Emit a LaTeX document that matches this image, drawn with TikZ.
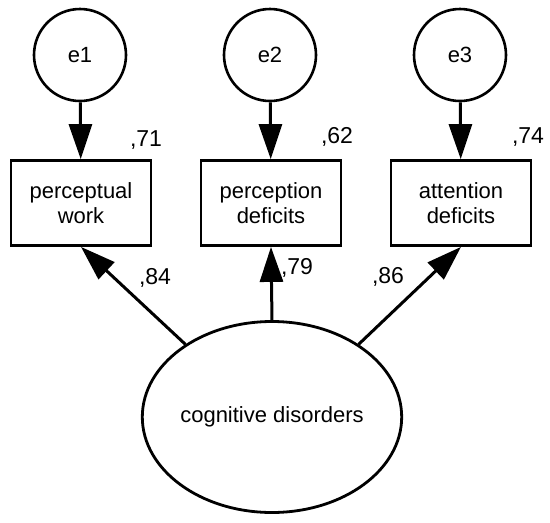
\documentclass[tikz,border=0pt]{standalone}
\usepackage{fontspec}
\setmainfont{Liberation Sans}
\usetikzlibrary{arrows.meta,shapes.geometric}
\begin{document}
\begin{tikzpicture}[x=1pt,y=-1pt,
  every node/.style={font=\fontsize{22}{25}\selectfont, inner sep=0pt},
  err/.style={draw, circle, line width=2.6pt, minimum size=92pt},
  obs/.style={draw, rectangle, line width=2.8pt, minimum width=140pt, minimum height=85pt, align=center},
  lat/.style={draw, ellipse, line width=2.8pt, minimum width=255pt, minimum height=191pt},
  conn/.style={line width=3pt, -{Triangle[length=35pt,width=23pt]}},
  coef/.style={font=\fontsize{23}{26}\selectfont}
]
\useasboundingbox (0,0) rectangle (550,523);
\node[err] (e1) at (80,55) {e1};
\node[err] (e2) at (270,55) {e2};
\node[err] (e3) at (460,55) {e3};
\node[obs] (b1) at (81,203) {perceptual\\work};
\node[obs] (b2) at (271,203) {perception\\deficits};
\node[obs] (b3) at (461,203) {attention\\deficits};
\node[lat] (ell) at (272,417) {cognitive disorders};
\draw[conn] (e1) -- (b1);
\draw[conn] (e2) -- (b2);
\draw[conn] (e3) -- (b3);
\draw[conn] (ell.140) -- (b1.south);
\draw[conn] (ell.north) -- (b2.south);
\draw[conn] (ell.40) -- (b3.south);
\node[coef] (l1) at (146,140) {,71};
\node[coef] (l2) at (337,137) {,62};
\node[coef] (l3) at (528,137) {,74};
\node[coef] (l4) at (155,278) {,84};
\node[coef] (l5) at (297,268) {,79};
\node[coef] (l6) at (388,277) {,86};
\end{tikzpicture}
\end{document}
